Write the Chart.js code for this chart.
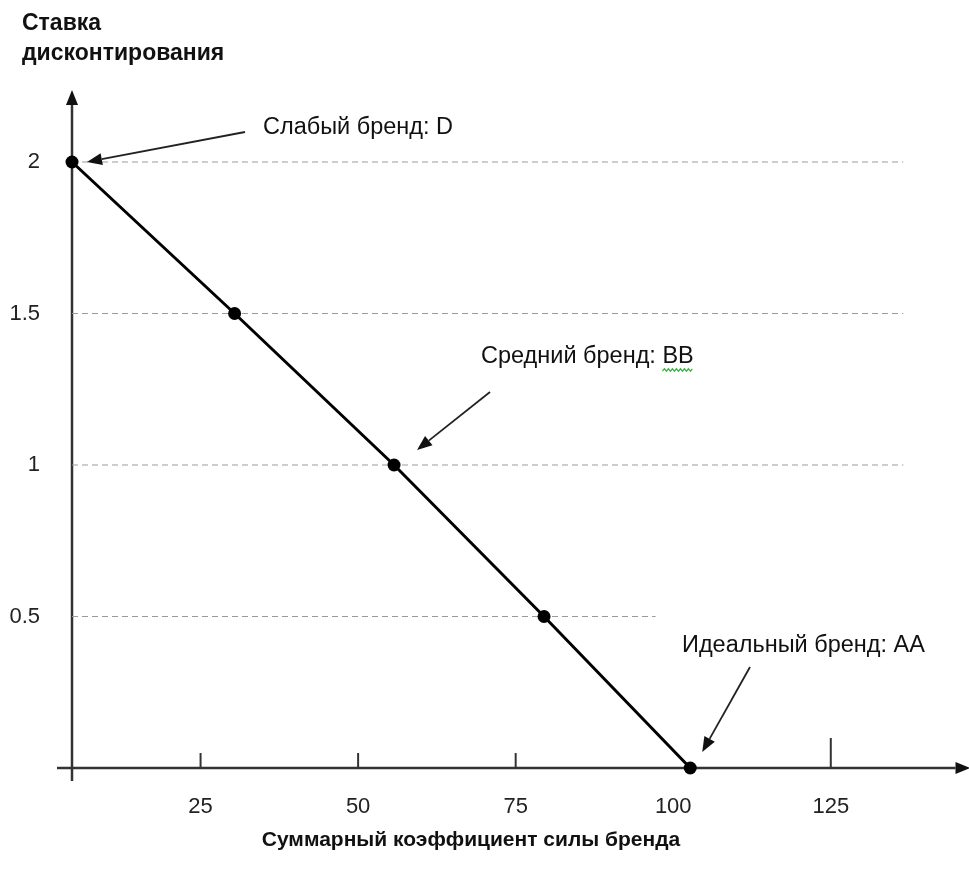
<!DOCTYPE html>
<html>
<head>
<meta charset="utf-8">
<script src="https://cdn.jsdelivr.net/npm/chart.js@4.4.0/dist/chart.umd.min.js"></script>
<style>
    body { margin: 0; background: #fff; }
    #wrap { width: 969px; height: 873px; position: relative; }
</style>
</head>
<body>
<div id="wrap"><canvas id="brandChart"></canvas></div>
<script>
// values
const xValues = [4.6, 30.4, 55.7, 79.5, 102.7];
const yValues = [2, 1.5, 1, 0.5, 0];
const xTicks = [25, 50, 75, 100, 125];
const yTicks = [0.5, 1, 1.5, 2];
const yTickLabels = ['0.5', '1', '1.5', '2'];
const guideLevels = [2, 1.5, 1, 0.5];
const guideEnds = [136.5, 136.5, 136.5, 97.2];
const noteTexts = ['Слабый бренд: D', 'Средний бренд: BB', 'Идеальный бренд: AA'];
const yTitle = ['Ставка', 'дисконтирования'];
const xTitle = 'Суммарный коэффициент силы бренда';

const FONT = '"Liberation Sans", Arial, sans-serif';

const guideSets = guideLevels.map((lvl, i) => ({
    data: [{ x: xValues[0], y: lvl }, { x: guideEnds[i], y: lvl }],
    showLine: true,
    borderColor: '#9a9a9a',
    borderWidth: 1,
    borderDash: [6, 4],
    pointRadius: 0,
    clip: false,
    order: 2
}));

function arrow(ctx, x1, y1, x2, y2) {
    const a = Math.atan2(y2 - y1, x2 - x1);
    const len = 15, half = 6;
    const bx = x2 - len * Math.cos(a), by = y2 - len * Math.sin(a);
    ctx.beginPath();
    ctx.moveTo(x1, y1);
    ctx.lineTo(bx, by);
    ctx.stroke();
    ctx.beginPath();
    ctx.moveTo(x2, y2);
    ctx.lineTo(bx + half * Math.sin(a), by - half * Math.cos(a));
    ctx.lineTo(bx - half * Math.sin(a), by + half * Math.cos(a));
    ctx.closePath();
    ctx.fill();
}

const axesPlugin = {
    id: 'axesPlugin',
    beforeDatasetsDraw(chart) {
        const { ctx, chartArea } = chart;
        const xs = chart.scales.x, ys = chart.scales.y;
        const ox = chartArea.left, oy = ys.getPixelForValue(0);
        ctx.save();
        ctx.strokeStyle = '#333';
        ctx.fillStyle = '#111';
        ctx.lineWidth = 2.5;
        // y axis with arrow
        arrow(ctx, ox, oy + 13, ox, chartArea.top);
        // x axis with arrow
        arrow(ctx, ox - 15, oy, chartArea.right + 8, oy);
        // tick marks above the x axis (none drawn at 100 in the original)
        ctx.lineWidth = 2;
        xTicks.forEach(v => {
            if (v === 100) return;
            const px = xs.getPixelForValue(v);
            const h = v === 125 ? 30 : 15;
            ctx.beginPath();
            ctx.moveTo(px, oy);
            ctx.lineTo(px, oy - h);
            ctx.stroke();
        });
        ctx.restore();
    },
    afterDraw(chart) {
        const { ctx } = chart;
        const xs = chart.scales.x, ys = chart.scales.y;
        const pt = i => ({ x: xs.getPixelForValue(xValues[i]), y: ys.getPixelForValue(yValues[i]) });
        ctx.save();
        // titles
        ctx.fillStyle = '#111';
        ctx.font = 'bold 23px ' + FONT;
        ctx.textBaseline = 'middle';
        ctx.textAlign = 'left';
        ctx.fillText(yTitle[0], 22, 24);
        ctx.fillText(yTitle[1], 22, 54);
        ctx.font = 'bold 21px ' + FONT;
        ctx.textAlign = 'center';
        ctx.fillText(xTitle, 471, 840);

        // notes with arrows
        ctx.font = '23.5px ' + FONT;
        ctx.textAlign = 'left';
        ctx.fillStyle = '#111';
        ctx.strokeStyle = '#222';
        ctx.lineWidth = 1.8;
        const p0 = pt(0), p2 = pt(2), p4 = pt(4);
        ctx.fillText(noteTexts[0], 263, 128);
        arrow(ctx, 245, 132, p0.x + 15, p0.y);
        ctx.fillText(noteTexts[1], 481, 357);
        arrow(ctx, 490, 392, p2.x + 23, p2.y - 15);
        ctx.fillText(noteTexts[2], 682, 646);
        arrow(ctx, 750, 667, p4.x + 12, p4.y - 16);

        // green spell-check squiggle under "BB"
        const pre = ctx.measureText('Средний бренд: ').width;
        const bw = ctx.measureText('BB').width;
        ctx.strokeStyle = '#3cb043';
        ctx.lineWidth = 1.2;
        ctx.beginPath();
        for (let x = 0; x <= bw; x += 2) {
            const px = 481 + pre + x, py = 370 + ((x / 2) % 2 ? -1.2 : 1.2);
            if (x === 0) ctx.moveTo(px, py); else ctx.lineTo(px, py);
        }
        ctx.stroke();
        ctx.restore();
    }
};

new Chart(document.getElementById('brandChart'), {
    type: 'scatter',
    data: {
        datasets: [
            {
                data: xValues.map((x, i) => ({ x, y: yValues[i] })),
                showLine: true,
                borderColor: '#000',
                borderWidth: 3,
                pointRadius: 6.5,
                pointBackgroundColor: '#000',
                pointBorderColor: '#000',
                pointBorderWidth: 0,
                clip: false,
                order: 1
            },
            ...guideSets
        ]
    },
    options: {
        responsive: true,
        maintainAspectRatio: false,
        animation: false,
        layout: { padding: { top: 90, left: 0, right: 0, bottom: 0 } },
        plugins: { legend: { display: false }, tooltip: { enabled: false } },
        scales: {
            x: {
                type: 'linear',
                min: 4.6,
                max: 145.9,
                afterBuildTicks: s => { s.ticks = xTicks.map(v => ({ value: v })); },
                afterFit: s => { s.height = 105; },
                grid: { display: false, drawTicks: false },
                border: { display: false },
                ticks: {
                    padding: 26,
                    color: '#222',
                    font: { family: FONT, size: 22 },
                    maxRotation: 0
                }
            },
            y: {
                type: 'linear',
                min: 0,
                max: 2.2376,
                afterBuildTicks: s => { s.ticks = yTicks.map(v => ({ value: v })); },
                afterFit: s => { s.width = 72; },
                grid: { display: false, drawTicks: false },
                border: { display: false },
                ticks: {
                    padding: 32,
                    color: '#222',
                    font: { family: FONT, size: 22 },
                    callback: v => yTickLabels[yTicks.indexOf(v)]
                }
            }
        }
    },
    plugins: [axesPlugin]
});
</script>
</body>
</html>
